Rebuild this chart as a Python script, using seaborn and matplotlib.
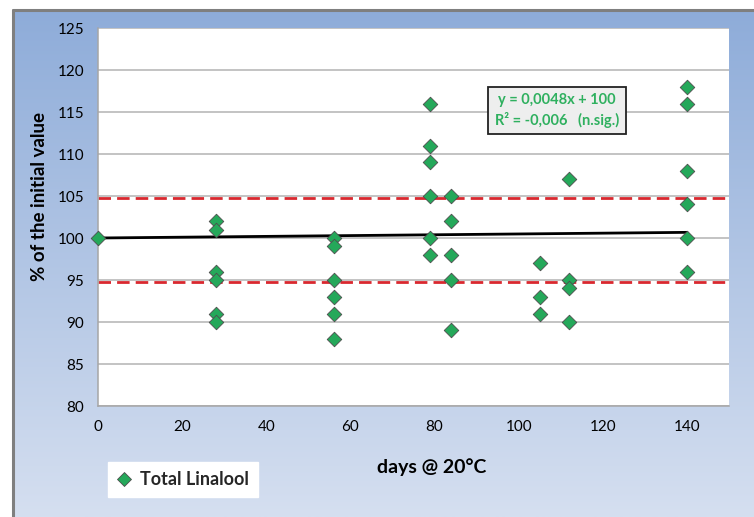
import numpy as np
import pandas as pd
import matplotlib
matplotlib.use("Agg")
import matplotlib.pyplot as plt
import seaborn as sns
from matplotlib.lines import Line2D

# Storage days and measured linalool (% of the initial value)
days = [0,
        28, 28, 28, 28, 28, 28,
        56, 56, 56, 56, 56, 56,
        79, 79, 79, 79, 79, 79,
        84, 84, 84, 84, 84,
        105, 105, 105,
        112, 112, 112, 112,
        140, 140, 140, 140, 140, 140]
values = [100,
          102, 101, 96, 95, 91, 90,
          100, 99, 95, 93, 91, 88,
          116, 111, 109, 105, 100, 98,
          105, 102, 98, 95, 89,
          97, 93, 91,
          107, 95, 94, 90,
          118, 116, 108, 104, 100, 96]

# Linear trend and tolerance band
slope, intercept = 0.0048, 100
trend_x = [0, 140]
band_upper = 104.8
band_lower = 94.8

x_ticks = [0, 20, 40, 60, 80, 100, 120, 140]
y_ticks = [80, 85, 90, 95, 100, 105, 110, 115, 120, 125]

df = pd.DataFrame({"days": days, "value": values})

sns.set_theme(style="white")
plt.rcParams["font.family"] = ["Lato", "DejaVu Sans"]

W, H = 754, 517
fig = plt.figure(figsize=(W / 100, H / 100), dpi=100)
fig.patch.set_facecolor("white")

# Blue gradient chart panel
bg = fig.add_axes([13 / W, 0, 1 - 13 / W, (H - 10) / H])
bg.set_axis_off()
top_c = np.array([0x8e, 0xac, 0xd9]) / 255
bot_c = np.array([0xd5, 0xdf, 0xf0]) / 255
t = np.linspace(0, 1, 256)[:, None]
grad = top_c[None, :] * (1 - t) + bot_c[None, :] * t
bg.imshow(grad[:, None, :], aspect="auto", extent=[0, 1, 0, 1])
bg.set_xlim(0, 1)
bg.set_ylim(0, 1)
fig.add_artist(Line2D([13 / W, 1], [1 - 10 / H, 1 - 10 / H], transform=fig.transFigure,
                      color="#7f7f7f", lw=2.2))
fig.add_artist(Line2D([13 / W, 13 / W], [0, 1 - 10 / H], transform=fig.transFigure,
                      color="#7f7f7f", lw=2.2))

ax = fig.add_axes([98 / W, (H - 406) / H, 631 / W, 378 / H])
ax.set_facecolor("white")
ax.set_xlim(0, 150)
ax.set_ylim(80, 125)
ax.set_yticks(y_ticks)
ax.set_xticks(x_ticks)
ax.yaxis.grid(True, color="#b3b3b3", lw=1.1)
ax.set_axisbelow(True)

for s in ["top", "right"]:
    ax.spines[s].set_visible(False)
for s in ["left", "bottom"]:
    ax.spines[s].set_color("#a6a6a6")
    ax.spines[s].set_linewidth(1.1)

# Tolerance band and regression line
ax.axhline(band_upper, color="#d9282f", lw=2, ls=(0, (4.5, 2.2)), zorder=2)
ax.axhline(band_lower, color="#d9282f", lw=2, ls=(0, (4.5, 2.2)), zorder=2)
ax.plot(trend_x, [slope * x + intercept for x in trend_x], color="black", lw=2, zorder=3)

sns.scatterplot(data=df, x="days", y="value", marker="D", s=55, color="#25a85a",
                edgecolor="#4d4d4d", linewidth=0.6, ax=ax, zorder=4, legend=False,
                clip_on=False)

ax.set_xlabel("days @ 20°C", fontsize=14, fontweight="bold", color="black")
ax.set_ylabel("% of the initial value", fontsize=13.5, fontweight="bold", color="black")
ax.xaxis.set_label_coords(0.529, -0.137)
ax.yaxis.set_label_coords(-0.079, 0.553)
ax.tick_params(axis="both", labelsize=11, colors="#a6a6a6", labelcolor="black",
               length=5, width=1, direction="out")
ax.tick_params(axis="x", pad=5)
ax.tick_params(axis="y", pad=5)

# Regression equation box
ax.text((557 - 98) / 631 * 150, 125 - (110.5 - 28) / 8.4,
        "y = 0,0048x + 100\nR² = -0,006   (n.sig.)", ha="center", va="center",
        fontsize=10.5, fontweight="bold", color="#2fb05f", linespacing=1.35,
        bbox=dict(boxstyle="square,pad=0.45", facecolor="#eeeeee", edgecolor="#222222", lw=1.3),
        zorder=6)

# Legend box below the plot
handle = Line2D([], [], marker="D", ls="none", markersize=7, color="#25a85a",
                markeredgecolor="#4d4d4d", markeredgewidth=0.6)
leg = fig.legend([handle], ["Total Linalool"], loc="center",
                 bbox_to_anchor=(183 / W, 1 - 479.5 / H), frameon=True, fancybox=False,
                 facecolor="white", edgecolor="white", framealpha=1,
                 prop={"size": 13, "weight": "bold"}, handlelength=0.8,
                 handletextpad=0.5, borderpad=0.5)

fig.savefig("out.png", dpi=100)
